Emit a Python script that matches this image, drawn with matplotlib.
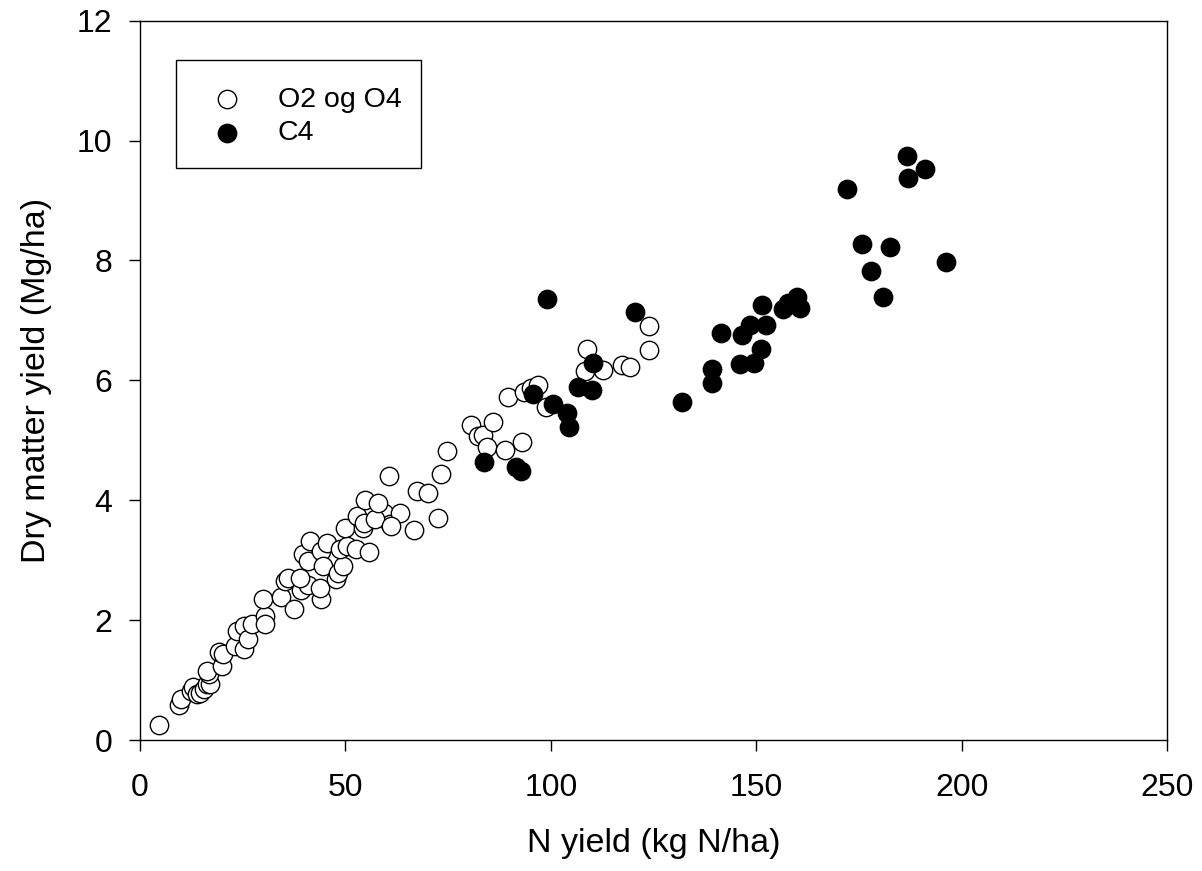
"""Dry matter yield vs. N yield scatter (O2/O4 vs C4)."""

import matplotlib as mpl
import matplotlib.pyplot as plt
from matplotlib.patches import Rectangle


# open circles: O2 og O4
open_n = [
    4.5, 9.5, 10.0, 12.5, 13.0, 13.8, 14.6, 15.5, 16.3, 17.1,
    16.7, 16.3, 19.9, 19.1, 20.3, 23.1, 25.2, 23.5, 25.2, 26.4,
    27.2, 30.4, 30.4, 30.0, 34.2, 37.5, 35.3, 36.1, 39.1, 40.9,
    44.0, 43.8, 38.9, 39.7, 40.9, 41.3, 44.0, 45.4, 44.6, 47.8,
    48.2, 49.3, 48.6, 50.4, 52.5, 55.7, 49.8, 52.7, 54.3, 54.4,
    54.7, 59.5, 60.8, 57.1, 57.9, 63.2, 61.2, 60.5, 67.5, 70.2,
    66.8, 72.5, 73.3, 74.8, 80.6, 82.2, 83.4, 84.5, 85.8, 88.8,
    92.9, 89.6, 93.5, 95.1, 96.8, 98.8, 108.3, 108.9, 112.8, 117.4,
    119.3, 123.9, 123.9,
]
open_dm = [
    0.25, 0.58, 0.69, 0.82, 0.88, 0.77, 0.79, 0.85, 0.93, 0.93,
    1.10, 1.15, 1.24, 1.46, 1.43, 1.57, 1.51, 1.82, 1.90, 1.68,
    1.93, 2.07, 1.93, 2.35, 2.38, 2.18, 2.65, 2.71, 2.50, 2.58,
    2.36, 2.54, 2.71, 3.10, 2.99, 3.32, 3.15, 3.29, 2.90, 2.68,
    2.79, 2.90, 3.18, 3.23, 3.18, 3.13, 3.54, 3.73, 3.54, 3.62,
    4.01, 3.79, 3.60, 3.68, 3.95, 3.79, 3.57, 4.40, 4.15, 4.12,
    3.51, 3.70, 4.43, 4.82, 5.26, 5.07, 5.09, 4.89, 5.30, 4.84,
    4.98, 5.72, 5.81, 5.87, 5.93, 5.55, 6.15, 6.53, 6.18, 6.26,
    6.23, 6.91, 6.50,
]

# filled circles: C4
c4_n = [
    99.0, 120.4, 110.2, 106.6, 110.0, 95.6, 100.5, 103.9, 104.4, 83.7,
    91.5, 92.7, 132.0, 139.1, 139.1, 141.3, 146.6, 148.5, 146.1, 149.5,
    151.2, 152.4, 151.5, 156.6, 157.8, 159.9, 160.7, 172.1, 175.7, 182.5,
    177.9, 180.8, 196.1, 186.7, 191.0, 186.9,
]
c4_dm = [
    7.35, 7.14, 6.29, 5.89, 5.84, 5.78, 5.61, 5.46, 5.23, 4.63,
    4.56, 4.48, 5.64, 6.19, 5.96, 6.79, 6.76, 6.92, 6.27, 6.29,
    6.52, 6.92, 7.26, 7.19, 7.29, 7.39, 7.20, 9.19, 8.27, 8.22,
    7.82, 7.39, 7.97, 9.74, 9.52, 9.37,
]

x_ticks = [0, 50, 100, 150, 200, 250]
y_ticks = [0, 2, 4, 6, 8, 10, 12]

mpl.rcParams.update(
    {
        "font.family": ["Liberation Sans", "DejaVu Sans"],
        "font.size": 23,
    }
)

fig = plt.figure(figsize=(12.02, 8.71), dpi=100)
ax = fig.add_axes([0.1165, 0.1504, 0.8545, 0.8258])

ax.scatter(open_n, open_dm, s=175, facecolor="white", edgecolor="black",
           linewidths=1.0, label="O2 og O4", zorder=3)
ax.scatter(c4_n, c4_dm, s=175, facecolor="black", edgecolor="black",
           linewidths=1.0, label="C4", zorder=4)

ax.set_xlim(0, 250)
ax.set_ylim(0, 12)
ax.set_xticks(x_ticks)
ax.set_yticks(y_ticks)
ax.tick_params(direction="out", length=8, width=1.0, labelsize=23)
ax.tick_params(axis="x", pad=16)
ax.tick_params(axis="y", pad=12)
for spine in ax.spines.values():
    spine.set_linewidth(1.0)

ax.set_xlabel("N yield (kg N/ha)", fontsize=24.5, labelpad=18)
ax.set_ylabel("Dry matter yield (Mg/ha)", fontsize=24.5, labelpad=18)

# legend box drawn separately so the padding can match the original
ax.add_patch(Rectangle((0.0351, 0.795), 0.2386, 0.150, transform=ax.transAxes,
                       facecolor="white", edgecolor="black", linewidth=1.0,
                       zorder=5))
ax.legend(loc="upper left", bbox_to_anchor=(0.0705, 0.908), frameon=False,
          fontsize=20.5, borderpad=0, borderaxespad=0, handlelength=1.0,
          handletextpad=1.3, labelspacing=0.25).set_zorder(6)

fig.savefig("out.png", dpi=100)
